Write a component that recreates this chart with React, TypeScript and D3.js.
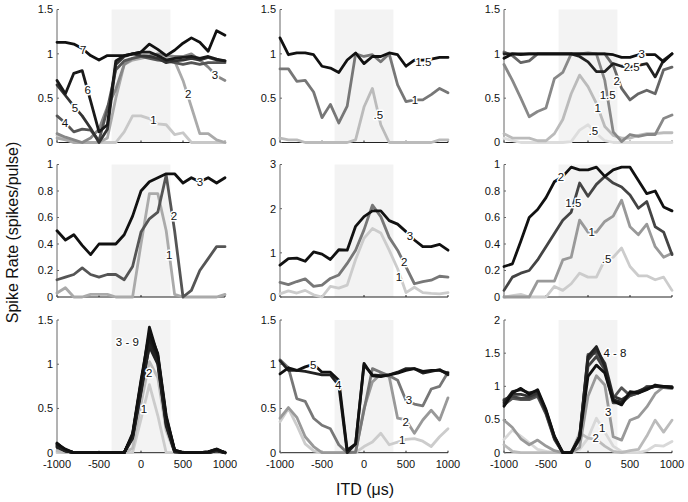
import React from "react";
import * as d3 from "d3";

// ITD values (µs)
const itd = [-1000, -900, -800, -700, -600, -500, -400, -300, -200, -100, 0, 100, 200, 300, 400, 500, 600, 700, 800, 900, 1000];
const xTicks = [-1000, -500, 0, 500, 1000];
const ticks15 = [0, 0.5, 1, 1.5];
const ticks1 = [0, 0.2, 0.4, 0.6, 0.8, 1];
const ticks3 = [0, 1, 2, 3];
const ticks2 = [0, 0.5, 1, 1.5, 2];
const shadeRange = [-350, 350];

// Panel 1 (top-left)
const p1_s1 = [0.08, 0.04, 0, 0, 0, 0, 0, 0, 0.12, 0.3, 0.3, 0.27, 0.21, 0.2, 0.09, 0.11, 0, 0, 0, 0, 0];
const p1_s2 = [0.05, 0.03, 0, 0, 0, 0, 0.05, 0.5, 0.88, 0.93, 0.95, 0.97, 0.95, 0.95, 0.92, 0.7, 0.4, 0.1, 0.1, 0.03, 0];
const p1_s3 = [0.1, 0.06, 0.03, 0, 0.05, 0.15, 0.4, 0.6, 0.88, 0.95, 0.97, 0.98, 1.0, 0.98, 0.97, 0.97, 1.0, 0.93, 0.85, 0.75, 0.7];
const p1_s4 = [0.3, 0.22, 0.12, 0.15, 0.14, 0.02, 0.38, 0.82, 0.92, 0.95, 0.97, 0.95, 0.93, 0.92, 0.9, 0.88, 0.9, 0.88, 0.9, 0.9, 0.9];
const p1_s5 = [0.65, 0.53, 0.41, 0.3, 0.16, 0.0, 0.15, 0.88, 0.97, 1.0, 0.98, 0.97, 0.95, 0.9, 0.92, 0.93, 0.95, 0.93, 0.96, 0.93, 0.92];
const p1_s6 = [0.7, 0.55, 0.78, 0.81, 0.47, 0.12, 0.2, 0.92, 0.98, 1.0, 1.02, 1.02, 0.98, 0.93, 0.95, 0.96, 0.97, 0.95, 0.97, 0.94, 0.92];
const p1_s7 = [1.13, 1.13, 1.11, 1.06, 0.98, 0.93, 0.98, 0.98, 0.98, 1.0, 1.02, 1.11, 1.05, 0.98, 1.04, 1.12, 1.18, 1.13, 1.03, 1.26, 1.21];

// Panel 2 (top-middle)
const p2_s05 = [0.05, 0.03, 0.03, 0, 0, 0, 0, 0, 0, 0.03, 0.4, 0.61, 0.2, 0, 0, 0, 0, 0, 0, 0.03, 0.03];
const p2_s1 = [0.83, 0.83, 0.69, 0.7, 0.57, 0.28, 0.43, 0.22, 0.41, 1.0, 0.97, 0.99, 0.91, 1.0, 0.65, 0.46, 0.48, 0.48, 0.54, 0.61, 0.56];
const p2_s15 = [1.18, 0.99, 1.01, 1.01, 0.99, 0.86, 0.84, 0.79, 0.93, 1.01, 0.89, 0.97, 0.97, 1.01, 0.99, 0.86, 0.93, 0.93, 0.94, 0.96, 0.96];

// Panel 3 (top-right)
const p3_s05 = [0.05, 0.02, 0, 0, 0, 0, 0, 0, 0.01, 0.14, 0.2, 0.1, 0.02, 0, 0, 0, 0, 0, 0, 0, 0];
const p3_s1 = [0.1, 0.05, 0.05, 0.05, 0.02, 0.02, 0.1, 0.26, 0.55, 0.76, 0.63, 0.44, 0.18, 0.08, 0.05, 0.05, 0.08, 0.1, 0.1, 0.11, 0.11];
const p3_s15 = [0.88, 0.7, 0.5, 0.29, 0.35, 0.39, 0.72, 0.79, 1.0, 1.0, 1.01, 1.0, 0.7, 0.12, 0.01, 0.09, 0.07, 0.09, 0.09, 0.27, 0.31];
const p3_s2 = [1.02, 0.98, 0.9, 0.92, 1.0, 1.0, 1.0, 1.0, 1.0, 1.0, 1.0, 1.0, 1.0, 0.87, 0.61, 0.48, 0.55, 0.59, 0.55, 0.82, 0.85];
const p3_s25 = [1.0, 1.0, 0.99, 1.0, 1.0, 1.0, 1.0, 1.0, 1.0, 0.97, 0.91, 0.8, 0.8, 0.89, 0.86, 0.85, 0.87, 0.89, 0.74, 0.93, 1.0];
const p3_s3 = [0.95, 1.0, 1.0, 1.0, 1.0, 1.0, 1.0, 1.0, 1.0, 1.0, 1.0, 1.0, 1.0, 0.99, 0.96, 0.96, 0.99, 0.99, 0.99, 0.91, 1.0];

// Panel 4 (middle-left)
const p4_s1 = [0.03, 0.07, 0, 0, 0.02, 0.02, 0.02, 0, 0, 0, 0.4, 0.78, 0.78, 0.5, 0.02, 0, 0, 0, 0, 0, 0.02];
const p4_s2 = [0.13, 0.15, 0.17, 0.22, 0.17, 0.15, 0.17, 0.17, 0.13, 0.23, 0.49, 0.59, 0.64, 0.92, 0.5, 0.0, 0.05, 0.2, 0.29, 0.38, 0.38];
const p4_s3 = [0.5, 0.43, 0.47, 0.39, 0.32, 0.4, 0.4, 0.4, 0.47, 0.61, 0.8, 0.87, 0.9, 0.93, 0.93, 0.86, 0.9, 0.87, 0.9, 0.86, 0.9];

// Panel 5 (middle-middle)
const p5_s1 = [0.07, 0.14, 0.09, 0.15, 0.05, 0.0, 0.24, 0.2, 0.27, 0.85, 1.33, 1.55, 1.45, 1.06, 0.64, 0.1, 0.22, 0.1, 0.08, 0.07, 0.1];
const p5_s2 = [0.33, 0.28, 0.35, 0.41, 0.24, 0.27, 0.42, 0.5, 0.76, 1.06, 1.52, 2.08, 1.82, 1.35, 1.06, 0.68, 0.3, 0.35, 0.38, 0.47, 0.45];
const p5_s3 = [0.72, 0.87, 0.88, 0.81, 1.02, 0.97, 0.85, 1.07, 1.06, 1.6, 1.82, 1.95, 1.95, 1.73, 1.65, 1.48, 1.29, 1.14, 1.14, 1.19, 1.06];

// Panel 6 (middle-right)
const p6_s05 = [0, 0.01, 0.02, 0, 0, 0, 0.08, 0.05, 0.1, 0.18, 0.15, 0.15, 0.28, 0.3, 0.37, 0.23, 0.16, 0.16, 0.13, 0.15, 0.05];
const p6_s1 = [0, 0, 0, 0, 0.12, 0.12, 0.12, 0.28, 0.3, 0.58, 0.49, 0.49, 0.57, 0.61, 0.73, 0.53, 0.47, 0.55, 0.38, 0.3, 0.33];
const p6_s15 = [0.05, 0.15, 0.18, 0.2, 0.28, 0.38, 0.48, 0.58, 0.64, 0.86, 0.76, 0.85, 0.91, 0.86, 0.83, 0.77, 0.67, 0.72, 0.53, 0.49, 0.32];
const p6_s2 = [0.23, 0.25, 0.42, 0.6, 0.66, 0.75, 0.87, 0.91, 0.98, 0.96, 0.96, 0.98, 0.91, 0.96, 0.98, 0.98, 0.88, 0.78, 0.8, 0.68, 0.65];

// Panel 7 (bottom-left)
const p7_s1 = [0, 0, 0, 0, 0, 0, 0, 0, 0, 0, 0.38, 0.77, 0.42, 0, 0, 0, 0, 0, 0, 0, 0];
const p7_s2 = [0.02, 0, 0, 0, 0, 0, 0, 0, 0, 0.05, 0.55, 1.03, 0.85, 0.25, 0, 0, 0, 0, 0, 0, 0];
const p7_s3 = [0.06, 0.02, 0, 0, 0, 0, 0, 0, 0, 0.18, 0.72, 1.2, 1.0, 0.3, 0.01, 0, 0, 0, 0, 0.02, 0];
const p7_s4 = [0.08, 0.02, 0, 0, 0, 0, 0, 0, 0, 0.2, 0.78, 1.25, 1.04, 0.34, 0.02, 0, 0, 0, 0, 0.03, 0];
const p7_s5 = [0.1, 0.03, 0, 0, 0, 0, 0, 0, 0, 0.2, 0.8, 1.3, 1.08, 0.37, 0.02, 0, 0, 0, 0.01, 0.03, 0];
const p7_s6 = [0.11, 0.03, 0, 0, 0, 0, 0, 0, 0, 0.19, 0.76, 1.42, 1.1, 0.4, 0.03, 0, 0, 0, 0.01, 0.04, 0];
const p7_s7 = [0.09, 0.02, 0, 0, 0, 0, 0, 0, 0, 0.18, 0.7, 1.28, 1.06, 0.38, 0.02, 0, 0, 0, 0, 0.03, 0];
const p7_s8 = [0.07, 0.02, 0, 0, 0, 0, 0, 0, 0, 0.16, 0.68, 1.22, 1.02, 0.32, 0.01, 0, 0, 0, 0, 0.02, 0];
const p7_s9 = [0.1, 0.04, 0, 0, 0, 0, 0, 0, 0, 0.22, 0.82, 1.36, 1.12, 0.42, 0.03, 0, 0, 0, 0.01, 0.04, 0];

// Panel 8 (bottom-middle)
const p8_s1 = [0.35, 0.5, 0.31, 0.1, 0.02, 0, 0, 0, 0, 0, 0.07, 0.12, 0.22, 0.09, 0.12, 0.15, 0.16, 0.13, 0.07, 0.18, 0.27];
const p8_s2 = [0.39, 0.51, 0.4, 0.18, 0.07, 0, 0, 0, 0, 0, 0.5, 0.8, 0.89, 0.86, 0.39, 0.37, 0.22, 0.37, 0.48, 0.37, 0.62];
const p8_s3 = [1.05, 0.96, 0.61, 0.58, 0.39, 0.31, 0.27, 0.09, 0, 0.01, 0.48, 0.95, 0.91, 0.87, 0.82, 0.59, 0.55, 0.53, 0.72, 0.75, 0.91];
const p8_s4 = [1.04, 0.93, 0.93, 0.92, 0.9, 0.88, 0.88, 0.76, 0.0, 0.1, 0.99, 0.88, 0.87, 0.88, 0.91, 0.95, 0.95, 0.9, 0.92, 0.94, 0.88];
const p8_s5 = [0.89, 0.96, 0.93, 0.97, 1.0, 0.91, 0.91, 0.82, 0.03, 0.1, 1.01, 0.87, 0.86, 0.88, 0.9, 0.93, 0.95, 0.92, 0.93, 0.93, 0.9];

// Panel 9 (bottom-right)
const p9_s1 = [0.2, 0.34, 0.25, 0.15, 0.05, 0.02, 0, 0, 0, 0.05, 0.22, 0.52, 0.31, 0.1, 0.02, 0, 0, 0.03, 0.11, 0.1, 0.17];
const p9_s2 = [0.12, 0.02, 0, 0, 0, 0, 0, 0, 0, 0.3, 0.22, 0.2, 0.1, 0.02, 0, 0.03, 0.05, 0.25, 0.49, 0.31, 0.49];
const p9_s3 = [0.49, 0.38, 0.21, 0.12, 0.19, 0.1, 0.03, 0, 0, 0.08, 0.85, 1.16, 1.02, 0.24, 0.19, 0.49, 0.54, 0.69, 0.89, 0.99, 0.99];
const p9_s4 = [0.72, 0.82, 0.8, 0.8, 0.85, 0.58, 0.2, 0, 0, 0.2, 1.48, 1.5, 1.28, 0.82, 0.98, 0.86, 0.9, 1.0, 1.0, 0.98, 0.97];
const p9_s5 = [0.8, 0.85, 0.82, 0.82, 0.88, 0.6, 0.22, 0, 0, 0.22, 1.3, 1.45, 1.25, 0.75, 0.75, 0.86, 0.9, 0.96, 1.0, 1.0, 0.98];
const p9_s6 = [0.78, 0.88, 0.88, 0.85, 0.9, 0.62, 0.22, 0, 0, 0.24, 1.4, 1.55, 1.35, 0.85, 0.8, 0.88, 0.93, 0.98, 1.0, 1.0, 0.99];
const p9_s7 = [0.75, 0.92, 0.95, 0.9, 0.93, 0.63, 0.24, 0, 0, 0.25, 1.45, 1.6, 1.3, 0.8, 0.76, 0.9, 0.92, 0.97, 1.0, 1.0, 0.99];
const p9_s8 = [0.7, 0.9, 0.97, 0.88, 0.95, 0.65, 0.25, 0, 0, 0.22, 1.15, 1.32, 1.2, 0.78, 0.72, 0.92, 0.9, 0.95, 1.02, 1.0, 0.98];

type Series = { d: number[]; c: string };
type Label = [string, number, number];
type Panel = { col: number; row: number; yMax: number; yTicks: number[]; series: Series[]; labels: Label[] };

const panels: Panel[] = [
  {
    col: 0, row: 0, yMax: 1.5, yTicks: ticks15,
    series: [
      { d: p1_s1, c: "#c8c8c8" }, { d: p1_s2, c: "#aaaaaa" }, { d: p1_s3, c: "#888888" },
      { d: p1_s4, c: "#555555" }, { d: p1_s5, c: "#333333" }, { d: p1_s6, c: "#1a1a1a" }, { d: p1_s7, c: "#111111" },
    ],
    labels: [["7", -687, 1.05], ["6", -635, 0.59], ["5", -786, 0.39], ["4", -905, 0.22], ["3", 881, 0.76], ["2", 563, 0.55], ["1", 147, 0.25]],
  },
  {
    col: 1, row: 0, yMax: 1.5, yTicks: ticks15,
    series: [{ d: p2_s05, c: "#bbbbbb" }, { d: p2_s1, c: "#777777" }, { d: p2_s15, c: "#111111" }],
    labels: [["1.5", 706, 0.91], ["1", 607, 0.48], [".5", 170, 0.31]],
  },
  {
    col: 2, row: 0, yMax: 1.5, yTicks: ticks15,
    series: [
      { d: p3_s05, c: "#dddddd" }, { d: p3_s1, c: "#bbbbbb" }, { d: p3_s15, c: "#888888" },
      { d: p3_s2, c: "#666666" }, { d: p3_s25, c: "#222222" }, { d: p3_s3, c: "#111111" },
    ],
    labels: [["3", 639, 1.0], ["2.5", 520, 0.85], ["2", 342, 0.7], ["1.5", 234, 0.54], ["1", 115, 0.39], [".5", 63, 0.13]],
  },
  {
    col: 0, row: 1, yMax: 1, yTicks: ticks1,
    series: [{ d: p4_s1, c: "#aaaaaa" }, { d: p4_s2, c: "#555555" }, { d: p4_s3, c: "#111111" }],
    labels: [["3", 702, 0.87], ["2", 393, 0.61], ["1", 337, 0.32]],
  },
  {
    col: 1, row: 1, yMax: 3, yTicks: ticks3,
    series: [{ d: p5_s1, c: "#cccccc" }, { d: p5_s2, c: "#777777" }, { d: p5_s3, c: "#111111" }],
    labels: [["3", 548, 1.38], ["2", 480, 0.8], ["1", 417, 0.45]],
  },
  {
    col: 2, row: 1, yMax: 1, yTicks: ticks1,
    series: [{ d: p6_s05, c: "#cccccc" }, { d: p6_s1, c: "#999999" }, { d: p6_s15, c: "#444444" }, { d: p6_s2, c: "#111111" }],
    labels: [["2", -321, 0.91], ["1.5", -175, 0.71], ["1", 44, 0.49], [".5", 222, 0.29]],
  },
  {
    col: 0, row: 2, yMax: 1.5, yTicks: ticks15,
    series: [
      { d: p7_s1, c: "#cccccc" }, { d: p7_s2, c: "#bbbbbb" },
      { d: p7_s3, c: "#222222" }, { d: p7_s4, c: "#1a1a1a" }, { d: p7_s5, c: "#222222" }, { d: p7_s6, c: "#111111" },
      { d: p7_s7, c: "#1a1a1a" }, { d: p7_s8, c: "#222222" }, { d: p7_s9, c: "#111111" },
    ],
    labels: [["3 - 9", -163, 1.25], ["2", 99, 0.9], ["1", 36, 0.5]],
  },
  {
    col: 1, row: 2, yMax: 1.5, yTicks: ticks15,
    series: [{ d: p8_s1, c: "#cccccc" }, { d: p8_s2, c: "#999999" }, { d: p8_s3, c: "#777777" }, { d: p8_s4, c: "#222222" }, { d: p8_s5, c: "#111111" }],
    labels: [["5", -604, 0.99], ["4", -306, 0.77], ["3", 536, 0.6], ["2", 496, 0.35], ["1", 456, 0.14]],
  },
  {
    col: 2, row: 2, yMax: 2, yTicks: ticks2,
    series: [
      { d: p9_s1, c: "#d8d8d8" }, { d: p9_s2, c: "#bbbbbb" }, { d: p9_s3, c: "#999999" },
      { d: p9_s4, c: "#555555" }, { d: p9_s5, c: "#444444" }, { d: p9_s6, c: "#333333" }, { d: p9_s7, c: "#222222" }, { d: p9_s8, c: "#111111" },
    ],
    labels: [["4 - 8", 321, 1.5], ["3", 242, 0.62], ["1", 170, 0.38], ["2", 92, 0.23]],
  },
];

const colX = [57, 280, 504];
const rowY: [number, number][] = [[9.5, 142.5], [164.5, 297], [320, 452.7]];
const PW = 168;
const FONT = "'Liberation Sans', Arial, Helvetica, sans-serif";

function fmt(v: number) {
  return String(v);
}

function PanelView({ p }: { p: Panel }) {
  const x0 = colX[p.col];
  const [yt, yb] = rowY[p.row];
  const x = d3.scaleLinear().domain([-1000, 1000]).range([x0, x0 + PW]);
  const y = d3.scaleLinear().domain([0, p.yMax]).range([yb, yt]);
  const line = d3.line<number>().x((_, i) => x(itd[i])).y((d) => y(d));
  return (
    <g>
      <rect x={x(shadeRange[0])} y={yt} width={x(shadeRange[1]) - x(shadeRange[0])} height={yb - yt} fill="#f3f3f3" />
      {/* x axis */}
      <line x1={x(-1000)} x2={x(1000)} y1={yb} y2={yb} stroke="#222" strokeWidth={1} />
      {xTicks.map((t) => (
        <line key={"xt" + t} x1={x(t)} x2={x(t)} y1={yb} y2={yb - 2} stroke="#222" strokeWidth={1} />
      ))}
      {p.row === 2 &&
        xTicks.map((t) => (
          <text key={"xl" + t} x={x(t)} y={467.5} textAnchor="middle" fontSize={11} fill="#111">
            {fmt(t)}
          </text>
        ))}
      {/* y axis */}
      <line x1={x0} x2={x0} y1={yt} y2={yb} stroke="#666" strokeWidth={1} />
      {p.yTicks.map((t) => (
        <g key={"yt" + t}>
          <line x1={x0} x2={x0 + 2} y1={y(t)} y2={y(t)} stroke="#666" strokeWidth={1} />
          <text x={x0 - 4} y={y(t)} dy="0.35em" textAnchor="end" fontSize={11} fill="#111">
            {fmt(t)}
          </text>
        </g>
      ))}
      {/* series */}
      {p.series.map((s, i) => (
        <path key={"s" + i} d={line(s.d) || ""} fill="none" stroke={s.c} strokeWidth={2.8} strokeLinejoin="round" strokeLinecap="round" />
      ))}
      {/* labels */}
      {p.labels.map(([t, lx, ly], i) => (
        <text
          key={"l" + i}
          x={x(lx)}
          y={y(ly)}
          dy="0.36em"
          textAnchor="middle"
          fontSize={11.5}
          fill="#111"
          stroke="#fff"
          strokeWidth={3}
          strokeLinejoin="round"
          style={{ paintOrder: "stroke" }}
        >
          {t}
        </text>
      ))}
    </g>
  );
}

export default function App() {
  return (
    <svg
      width={688}
      height={502}
      viewBox="0 0 688 502"
      style={{ position: "absolute", left: 0, top: 0, background: "#fff" }}
      fontFamily={FONT}
    >
      <rect x={0} y={0} width={688} height={502} fill="#fff" />
      {panels.map((p, i) => (
        <PanelView key={i} p={p} />
      ))}
      <text x={365} y={494.5} textAnchor="middle" fontSize={16} fill="#111">
        ITD (μs)
      </text>
      <text transform="translate(18,232.5) rotate(-90)" textAnchor="middle" fontSize={16} fill="#111">
        Spike Rate (spikes/pulse)
      </text>
    </svg>
  );
}
